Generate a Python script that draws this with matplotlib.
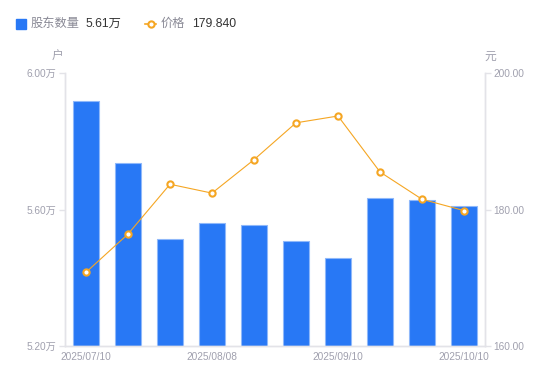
import matplotlib
matplotlib.use("Agg")
import matplotlib.pyplot as plt
from matplotlib.lines import Line2D

plt.rcParams['font.family'] = ['Liberation Sans', 'Noto Sans CJK SC', 'DejaVu Sans']

dates = ["2025/07/10", "2025/07/18", "2025/07/31", "2025/08/08", "2025/08/20",
         "2025/08/29", "2025/09/10", "2025/09/19", "2025/09/30", "2025/10/10"]
holders = [5.918, 5.736, 5.514, 5.560, 5.555, 5.508, 5.458, 5.634, 5.628, 5.610]  # 万户
price = [170.8, 176.4, 183.7, 182.4, 187.3, 192.7, 193.7, 185.5, 181.5, 179.84]
shown_ticks = [0, 3, 6, 9]
left_ticks = [5.20, 5.60, 6.00]
right_ticks = [160.0, 180.0, 200.0]

BLUE = "#2878F5"
ORANGE = "#F5A623"
GRAY = "#a0a0ae"
AXC = "#e3e3e8"

fig = plt.figure(figsize=(5.5, 3.81), dpi=100)
ax = fig.add_axes([65/550, 1-346/381, 420/550, 273/381])
ax2 = ax.twinx()

x = list(range(len(dates)))
ax.bar(x, holders, width=0.6, color=BLUE, edgecolor="#8fb8fa", linewidth=0.8, zorder=2)
ax.set_ylim(5.2, 6.0)
ax.set_xlim(-0.5, len(dates) - 0.5)
ax.set_yticks(left_ticks)
ax.set_yticklabels([f"{v:.2f}万" for v in left_ticks])
ax.set_xticks(shown_ticks)
ax.set_xticklabels([dates[i] for i in shown_ticks])

ax2.plot(x, price, color=ORANGE, linewidth=0.8, marker="o", markersize=4.5,
         markerfacecolor="white", markeredgecolor=ORANGE, markeredgewidth=1.5, zorder=3)
ax2.set_ylim(160, 200)
ax2.set_yticks(right_ticks)
ax2.set_yticklabels([f"{v:.2f}" for v in right_ticks])

for a in (ax, ax2):
    a.spines["top"].set_visible(False)
    for s in ("left", "right", "bottom"):
        a.spines[s].set_color(AXC)
        a.spines[s].set_linewidth(1)
    a.tick_params(axis="y", colors=AXC, labelcolor=GRAY, labelsize=7.3, length=4, width=1, pad=2)
    a.tick_params(axis="x", length=0, labelcolor=GRAY, labelsize=7.3, pad=4)

fig.text(58/550, 1-57/381, "户", color=GRAY, fontsize=8.5, ha="center", va="center")
fig.text(490/550, 1-57/381, "元", color=GRAY, fontsize=8.5, ha="center", va="center")

# legend header
fig.patches.append(plt.Rectangle((16/550, 1-29/381), 10/550, 10/381, transform=fig.transFigure,
                                 color=BLUE, figure=fig))
fig.text(31/550, 1-24/381, "股东数量", color="#8a8a96", fontsize=8.8, va="center")
fig.text(85/550, 1-24/381, f"{holders[-1]:.2f}万", color="#333333", fontsize=8.8, va="center")
fig.lines.append(Line2D([145/550, 156/550], [1-24/381, 1-24/381], transform=fig.transFigure,
                        color=ORANGE, linewidth=1.2, zorder=0))
fig.lines.append(Line2D([150.5/550], [1-24/381], transform=fig.transFigure,
                        linestyle="none", marker="o", markersize=4.5,
                        markerfacecolor="white", markeredgecolor=ORANGE,
                        markeredgewidth=1.5))
fig.text(161/550, 1-24/381, "价格", color="#8a8a96", fontsize=8.8, va="center")
fig.text(192/550, 1-24/381, f"{price[-1]:.3f}", color="#333333", fontsize=8.8, va="center")

fig.savefig("out.png", dpi=100)
